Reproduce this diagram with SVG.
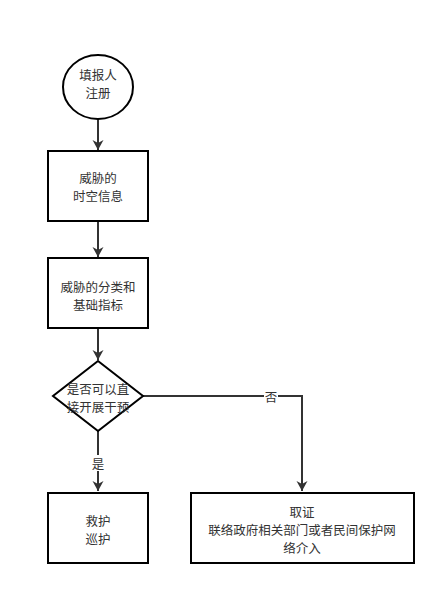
<svg xmlns="http://www.w3.org/2000/svg" width="446" height="595" viewBox="0 0 446 595">
<style>
.shape{fill:#fff;stroke:#000;stroke-width:2}
.t{font-family:"Noto Sans CJK SC","Liberation Sans",sans-serif;font-size:12.5px;fill:#333;text-anchor:middle;dominant-baseline:central}
.edge{fill:none;stroke:#333;stroke-width:2}
.lbl{fill:#fff}
</style>
<defs>
<marker id="arr" markerWidth="12" markerHeight="12" refX="10" refY="5.5" orient="auto" markerUnits="userSpaceOnUse">
<path d="M0,0 L10,5.5 L0,11 L3,5.5 Z" fill="#333"/>
</marker>
</defs>
<rect width="446" height="595" fill="#fff"/>
<g id="connectors">
<path class="edge" d="M98,119 V150" marker-end="url(#arr)"/>
<path class="edge" d="M98,221 V257" marker-end="url(#arr)"/>
<path class="edge" d="M98,328 V360" marker-end="url(#arr)"/>
<path class="edge" d="M98,431 V491" marker-end="url(#arr)"/>
<path class="edge" d="M143,396 H302 V491" marker-end="url(#arr)"/>
<rect class="lbl" x="91" y="455" width="14" height="16"/>
<text class="t" x="98" y="463">是</text>
<rect class="lbl" x="264" y="388" width="14" height="16"/>
<text class="t" x="271" y="396">否</text>
</g>
<g id="start">
<ellipse class="shape" cx="98" cy="87" rx="35" ry="32"/>
<text class="t" x="98" y="74">填报人</text>
<text class="t" x="98" y="92">注册</text>
</g>
<g id="info">
<rect class="shape" x="48" y="151" width="100" height="70"/>
<text class="t" x="98" y="177">威胁的</text>
<text class="t" x="98" y="195">时空信息</text>
</g>
<g id="classify">
<rect class="shape" x="48" y="258" width="100" height="70"/>
<text class="t" x="98" y="286">威胁的分类和</text>
<text class="t" x="98" y="304">基础指标</text>
</g>
<g id="decision">
<path class="shape" d="M98,361 L143,396 L98,431 L53,396 Z"/>
<text class="t" x="98" y="388">是否可以直</text>
<text class="t" x="98" y="406">接开展干预</text>
</g>
<g id="rescue">
<rect class="shape" x="48" y="493" width="100" height="70"/>
<text class="t" x="98" y="520">救护</text>
<text class="t" x="98" y="538">巡护</text>
</g>
<g id="evidence">
<rect class="shape" x="191" y="493" width="223" height="70"/>
<text class="t" x="302" y="511">取证</text>
<text class="t" x="302" y="529">联络政府相关部门或者民间保护网</text>
<text class="t" x="302" y="547">络介入</text>
</g>
</svg>
